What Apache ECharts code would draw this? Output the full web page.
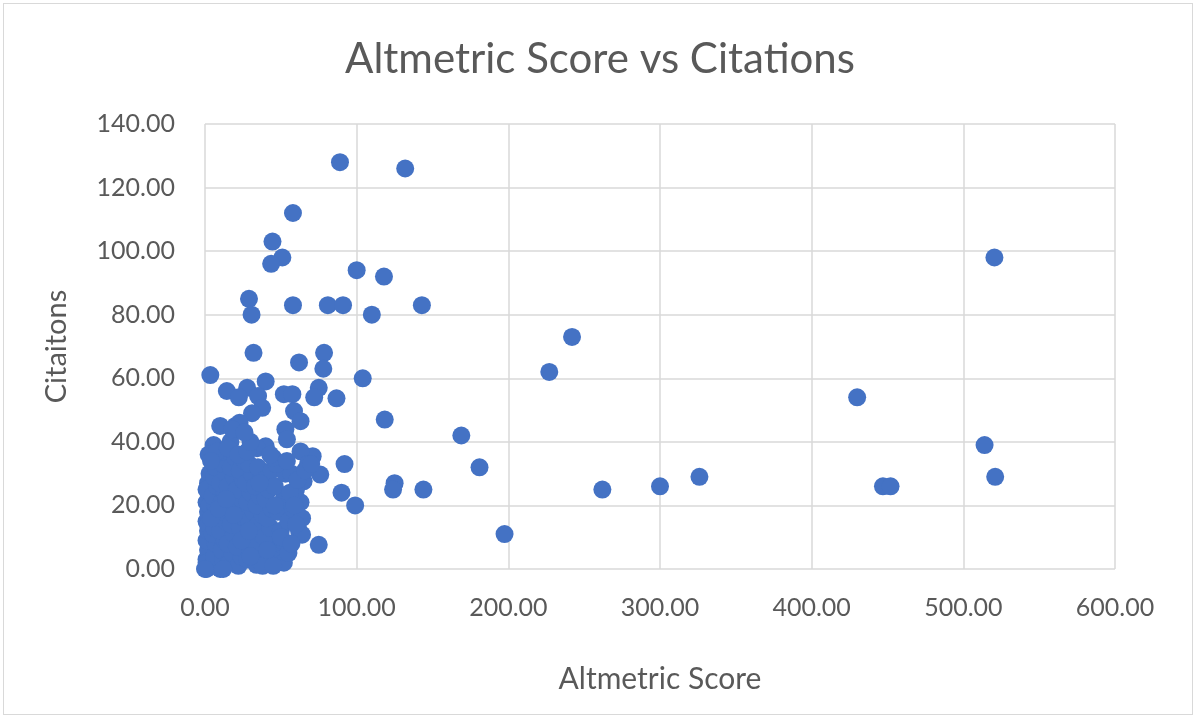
<!DOCTYPE html>
<html><head><meta charset="utf-8">
<script src="https://cdn.jsdelivr.net/npm/echarts@6/dist/echarts.min.js"></script>
<style>html,body{margin:0;padding:0;background:#fff}#frame{position:absolute;left:3px;top:3px;width:1190px;height:712px;border:1.5px solid #d9d9d9;box-sizing:border-box}#c{position:absolute;left:0;top:0;width:1200px;height:721px}</style>
</head><body><div id="frame"></div><div id="c"></div>
<script>
const chartTitle = "Altmetric Score vs Citations";
const xAxisName = "Altmetric Score";
const yAxisName = "Citaitons";
// Altmetric score values
const altmetric = [
 89,132,58,44.5,51,43.6,29,30.7,58,81,91,100,118,110,143,32,78.5,78,62,3.5,104,227,242,430,520.5,514,521,447,452,326,300,262,197.5,181,169,118.5,144,125,124,92,90,99,
 40,14.4,27.8,22.3,35,37.7,31,52,57.6,75,72,86.7,58.7,63,53,54,10,20,5.7,2.4,16.8,40,34.4,22.8,
 1,1,2,1,2,1,2,1,3,2,3,1,2,3,1,
 5,6,7,5,8,6,7,5,8,6,7,9,6,
 10,12,11,13,10,14,12,11,13,10,14,12,11,
 16,18,15,19,17,20,16,18,15,19,17,20,
 22,24,21,25,23,26,22,24,21,25,23,26,
 28,30,27,31,29,32,28,30,27,31,29,
 34,36,33,37,35,38,34,36,33,37,35,
 40,42,39,43,41,44,40,42,39,44,
 47,50,48,52,46,53,49,55,51,47,
 58,64,63,65,76,71,63,60,68,57,62,64,75,49,34,12,0,44,38,30,
 8,15,22,28,45,30,18,26,4,43,52,55,45,56,59,61,54,50,57,66,70,60,4,9,14,19,24,29,36,41,46
];
// Citation counts (same order)
const citations = [
 128,126,112,103,98,96,85,80,83,83,83,94,92,80,83,68,68,63,65,61,60,62,73,54,98,39,29,26,26,29,26,25,11,32,42,47,25,27,25,33,24,20,
 59,56,57,54,54.4,50.7,49,55,55,57,54,53.7,49.7,46.5,44,40.8,45,45,39,36,40,38.6,38,46,
 0,3,6,9,12,15,18,21,24,27,30,2,14,20,25,
 1,4,8,11,14,17,20,23,26,29,32,35,13,
 0,3,6,9,12,15,18,21,24,27,30,33,37,
 2,5,8,11,14,17,20,23,26,29,32,35,
 1,4,7,10,13,16,19,22,25,28,31,34,
 3,6,9,12,15,18,21,24,27,30,33,
 2,5,8,11,14,17,20,23,26,29,32,
 4,7,10,13,16,19,22,25,28,31,
 6,12,18,22,26,30,3,15,9,33,
 19,16,21,27.6,29.7,35.5,37,25,33,30,12,10.8,7.6,2.3,1.3,0,0,3,1,4,
 37,38,36,37,35,40,44,43,34,36,2,5,1,24,20,28,34,10,8,31,33,14,16,19,22,17,9,12,27,6,20
];
const xTicks = [0,100,200,300,400,500,600];
const yTicks = [0,20,40,60,80,100,120,140];

const points = altmetric.map((v,i)=>[v,citations[i]]);
const chart = echarts.init(document.getElementById('c'));
const txt = '#595959';
chart.setOption({
  animation:false,
  title:{text:chartTitle,left:'center',top:33,textStyle:{fontFamily:'Lato',fontSize:42,fontWeight:'normal',color:txt}},
  grid:{left:205,right:85,top:124,bottom:152},
  xAxis:{type:'value',min:xTicks[0],max:xTicks[xTicks.length-1],interval:100,
    name:xAxisName,nameLocation:'middle',nameGap:95,nameTextStyle:{fontFamily:'Lato',fontSize:30,color:txt},
    axisLine:{show:false},axisTick:{show:false},
    axisLabel:{fontFamily:'Lato',fontSize:25,color:txt,margin:26,formatter:v=>v.toFixed(2)},
    splitLine:{show:true,lineStyle:{color:'#d9d9d9',width:1.5}}},
  yAxis:{type:'value',min:yTicks[0],max:yTicks[yTicks.length-1],interval:20,
    name:yAxisName,nameLocation:'middle',nameGap:134,nameTextStyle:{fontFamily:'Lato',fontSize:29,color:txt},
    axisLine:{show:false},axisTick:{show:false},
    axisLabel:{fontFamily:'Lato',fontSize:25,color:txt,margin:30,formatter:v=>v.toFixed(2)},
    splitLine:{show:true,lineStyle:{color:'#d9d9d9',width:1.5}}},
  series:[{type:'scatter',data:points,symbolSize:18,itemStyle:{color:'#4472c4',opacity:1}}]
});
</script></body></html>
